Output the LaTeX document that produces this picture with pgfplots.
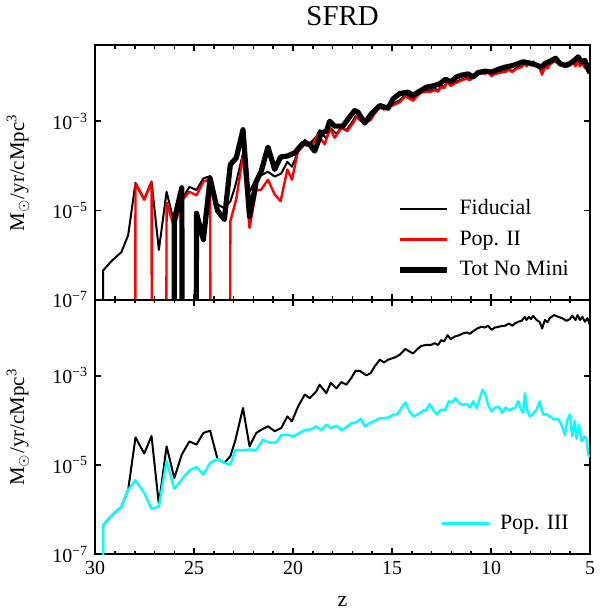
\documentclass[border=0pt]{standalone}
\usepackage{fontspec}
\setmainfont{Liberation Serif}
\usepackage{pgfplots}
\usepackage{pgfplotstable}
\pgfplotsset{compat=1.18}
\usepgfplotslibrary{groupplots}
\definecolor{aqua}{RGB}{0,255,255}
\definecolor{pure red}{RGB}{255,0,0}

% log10 of SFRD; -99 stands for zero (drawn as a drop to the bottom)
\pgfplotstableread{
z lg
29.96 -99
29.59 -6.34
29.17 -6.13
28.67 -5.93
28.33 -5.55
27.96 -4.38
27.52 -4.74
27.15 -4.35
26.78 -5.88
26.39 -4.58
26.00 -5.29
25.62 -4.76
25.24 -4.47
24.88 -4.54
24.53 -4.28
24.19 -4.23
23.82 -4.86
23.47 -4.95
23.17 -4.80
22.92 -4.45
22.53 -3.72
22.20 -4.58
21.86 -4.28
21.61 -4.21
21.27 -4.13
20.93 -4.24
20.60 -4.17
20.29 -3.91
20.06 -4.02
19.75 -3.69
19.41 -3.42
19.16 -3.50
18.83 -3.35
18.66 -3.20
18.32 -3.39
18.10 -3.16
17.81 -3.28
17.56 -3.14
17.31 -3.20
17.06 -3.05
16.85 -2.89
16.63 -2.89
16.30 -2.99
16.08 -2.94
15.88 -2.79
15.62 -2.64
15.41 -2.70
15.20 -2.64
14.87 -2.59
14.61 -2.53
14.33 -2.40
14.11 -2.46
13.94 -2.50
13.72 -2.40
13.52 -2.33
13.27 -2.31
13.05 -2.31
12.84 -2.27
12.68 -2.31
12.51 -2.20
12.37 -2.23
12.20 -2.09
12.04 -2.18
11.83 -2.12
11.66 -2.10
11.41 -2.05
11.24 -2.03
11.07 -2.06
10.90 -2.00
10.69 -1.94
10.48 -1.90
10.32 -1.92
10.15 -1.88
9.98 -1.97
9.81 -1.92
9.68 -1.91
9.51 -1.89
9.30 -1.88
9.10 -1.83
8.93 -1.88
8.80 -1.83
8.63 -1.79
8.46 -1.77
8.29 -1.68
8.21 -1.75
8.09 -1.68
7.99 -1.73
7.87 -1.66
7.70 -1.75
7.54 -1.80
7.42 -1.94
7.28 -1.75
7.15 -1.80
7.03 -1.71
6.81 -1.64
6.61 -1.68
6.41 -1.71
6.19 -1.77
6.02 -1.73
5.90 -1.65
5.73 -1.75
5.63 -1.64
5.51 -1.75
5.39 -1.68
5.26 -1.79
5.13 -1.71
5.01 -1.86
}\fiducial

\pgfplotstableread{
z lg
28.33 -99
27.96 -4.40
27.52 -4.76
27.15 -4.37
26.78 -99
26.39 -4.82
26.00 -5.38
25.62 -4.78
25.24 -4.58
24.88 -4.66
24.53 -4.35
24.19 -4.30
23.82 -99
23.47 -99
23.17 -5.24
22.87 -4.74
22.53 -3.76
22.20 -5.39
21.86 -4.55
21.61 -4.53
21.27 -4.31
20.93 -4.64
20.63 -4.79
20.29 -4.08
20.06 -4.31
19.75 -3.67
19.42 -3.52
19.08 -3.56
18.74 -3.30
18.40 -3.52
18.15 -3.15
17.90 -3.37
17.56 -3.15
17.26 -3.22
16.97 -3.04
16.80 -2.91
16.55 -3.00
16.30 -3.03
16.08 -2.97
15.88 -2.83
15.62 -2.68
15.41 -2.74
15.20 -2.68
14.87 -2.63
14.61 -2.57
14.33 -2.44
14.11 -2.50
13.94 -2.54
13.72 -2.43
13.52 -2.36
13.27 -2.34
13.05 -2.34
12.84 -2.30
12.68 -2.34
12.51 -2.23
12.37 -2.26
12.20 -2.12
12.04 -2.21
11.83 -2.15
11.66 -2.12
11.41 -2.07
11.24 -2.05
11.07 -2.08
10.90 -2.02
10.69 -1.96
10.48 -1.92
10.32 -1.94
10.15 -1.90
9.98 -1.99
9.81 -1.94
9.68 -1.93
9.51 -1.91
9.30 -1.90
9.10 -1.85
8.93 -1.90
8.80 -1.85
8.63 -1.81
8.46 -1.79
8.29 -1.70
8.21 -1.77
8.09 -1.70
7.99 -1.75
7.87 -1.68
7.70 -1.77
7.54 -1.82
7.42 -1.96
7.28 -1.77
7.15 -1.82
7.03 -1.73
6.81 -1.66
6.61 -1.70
6.41 -1.73
6.19 -1.79
6.02 -1.75
5.90 -1.67
5.73 -1.77
5.63 -1.66
5.51 -1.77
5.39 -1.70
5.26 -1.81
5.13 -1.73
5.01 -1.88
}\popii

\pgfplotstableread{
z lg
26.39 -99
26.00 -5.20
25.62 -4.49
25.24 -99
24.88 -5.06
24.53 -5.65
24.19 -4.28
23.82 -5.00
23.47 -5.20
23.17 -3.97
22.87 -3.82
22.53 -3.19
22.20 -5.13
21.86 -4.35
21.61 -4.12
21.27 -3.58
20.93 -4.08
20.63 -3.80
20.29 -3.78
19.92 -3.71
19.50 -3.49
19.16 -3.52
18.91 -3.67
18.57 -3.26
18.32 -3.22
18.15 -3.00
17.90 -3.11
17.48 -3.11
17.19 -2.93
16.89 -2.76
16.72 -2.80
16.38 -3.04
16.04 -2.83
15.62 -2.65
15.20 -2.71
14.95 -2.50
14.61 -2.38
14.19 -2.35
13.94 -2.42
13.69 -2.35
13.27 -2.24
12.84 -2.20
12.59 -2.16
12.30 -2.06
12.03 -2.12
11.75 -2.01
11.50 -1.97
11.16 -1.94
10.91 -2.01
10.65 -1.91
10.32 -1.88
9.98 -1.90
9.64 -1.84
9.30 -1.79
8.97 -1.76
8.63 -1.71
8.38 -1.67
8.13 -1.69
7.79 -1.73
7.45 -1.79
7.28 -1.71
6.95 -1.64
6.74 -1.59
6.52 -1.71
6.27 -1.75
6.02 -1.71
5.80 -1.64
5.60 -1.56
5.43 -1.67
5.26 -1.64
5.13 -1.80
5.01 -1.92
}\totnomini

\pgfplotstableread{
z lg
29.96 -99
29.59 -6.34
29.17 -6.13
28.67 -5.93
28.33 -5.55
27.96 -5.34
27.52 -5.62
27.15 -5.98
26.78 -5.93
26.39 -4.91
26.00 -5.53
25.62 -5.32
25.24 -5.12
24.88 -5.04
24.53 -5.21
24.19 -4.95
23.82 -4.86
23.47 -4.95
23.17 -4.99
22.92 -4.66
22.53 -4.67
22.20 -4.65
21.86 -4.66
21.53 -4.43
21.19 -4.50
20.85 -4.49
20.60 -4.33
20.26 -4.32
20.01 -4.36
19.68 -4.28
19.39 -4.21
19.09 -4.20
18.83 -4.13
18.58 -4.22
18.32 -4.09
18.10 -4.17
17.81 -4.12
17.56 -4.22
17.31 -4.15
17.06 -4.06
16.80 -4.04
16.58 -3.96
16.38 -4.13
16.13 -4.06
15.88 -4.01
15.62 -3.95
15.41 -3.95
15.17 -3.93
14.95 -3.87
14.73 -3.86
14.53 -3.72
14.33 -3.60
14.11 -3.81
13.89 -3.91
13.69 -3.86
13.43 -3.78
13.27 -3.76
13.10 -3.63
12.93 -3.76
12.73 -3.87
12.54 -3.76
12.30 -3.76
12.14 -3.57
11.97 -3.59
11.80 -3.50
11.63 -3.61
11.41 -3.65
11.24 -3.63
11.07 -3.71
10.90 -3.57
10.74 -3.72
10.62 -3.57
10.43 -3.31
10.28 -3.43
10.15 -3.65
9.98 -3.80
9.78 -3.71
9.61 -3.69
9.44 -3.83
9.27 -3.71
9.10 -3.77
8.93 -3.74
8.77 -3.71
8.63 -3.57
8.50 -3.74
8.38 -3.83
8.29 -3.39
8.16 -3.80
8.04 -3.91
7.92 -3.87
7.70 -3.76
7.54 -3.57
7.37 -3.87
7.20 -3.86
7.03 -3.91
6.81 -3.98
6.61 -3.96
6.44 -4.10
6.27 -4.33
6.14 -3.98
6.02 -3.87
5.90 -4.36
5.77 -4.01
5.68 -4.41
5.56 -4.10
5.43 -4.47
5.29 -4.36
5.18 -4.39
5.09 -4.78
5.00 -4.80
}\popiii

\begin{document}
\begin{tikzpicture}
\begin{groupplot}[
  group style={group size=1 by 2, vertical sep=0pt, xticklabels at=edge bottom},
  width=247.5bp, height=127.3bp, scale only axis,
  x dir=reverse, xmin=5, xmax=30, ymin=-7, ymax=-1.3,
  xtick={5,10,15,20,25,30}, xticklabels={5,10,15,20,25,30}, minor x tick num=4,
  ytick={-7,-5,-3},
  yticklabels={10\textsuperscript{−7},10\textsuperscript{−5},10\textsuperscript{−3}},
  tick align=inside, tick pos=both,
  major tick length=3bp, minor tick length=1.8bp,
  axis line style={line width=1bp},
  every tick/.style={black, line width=0.8bp},
  ticklabel style={font=\fontsize{10}{12}\selectfont},
  every axis y label/.style={at={(axis description cs:-0.156,0.5)}, rotate=90, anchor=center,
    font=\fontsize{10.5}{12}\selectfont},
  ylabel={M$_\odot$/yr/cMpc\textsuperscript{3}},
  legend cell align=left,
  legend image code/.code={\draw[#1] (0bp,0bp) -- (23.5bp,0bp);},
  legend style={draw=none, fill=none, font=\fontsize{11}{13}\selectfont,
    anchor=south east, row sep=2.6bp, column sep=3bp},
  every axis plot/.append style={line join=round},
  every axis title shift=0pt,
]
\nextgroupplot[
  title={SFRD}, title style={at={(axis description cs:0.5,1.114)}, anchor=center,
    font=\fontsize{14.5}{16}\selectfont},
  legend style={at={(axis description cs:0.978,0.05)}},
]
\addplot[black, line width=1bp] table[x=z, y=lg] {\fiducial};
\addlegendentry{Fiducial}
\addplot[pure red, line width=1.2bp] table[x=z, y=lg] {\popii};
\addlegendentry{Pop. II}
\addplot[black, line width=2.6bp] table[x=z, y=lg] {\totnomini};
\addlegendentry{Tot No Mini}

\nextgroupplot[
  xlabel={z}, every axis x label/.style={at={(axis description cs:0.5,-0.184)}, anchor=center,
    font=\fontsize{11}{13}\selectfont},
  legend style={at={(axis description cs:0.978,0.055)}},
]
\addplot[black, line width=1bp, forget plot] table[x=z, y=lg] {\fiducial};
\addplot[aqua, line width=1.2bp] table[x=z, y=lg] {\popiii};
\addlegendentry{Pop. III}
\end{groupplot}
\end{tikzpicture}
\end{document}
